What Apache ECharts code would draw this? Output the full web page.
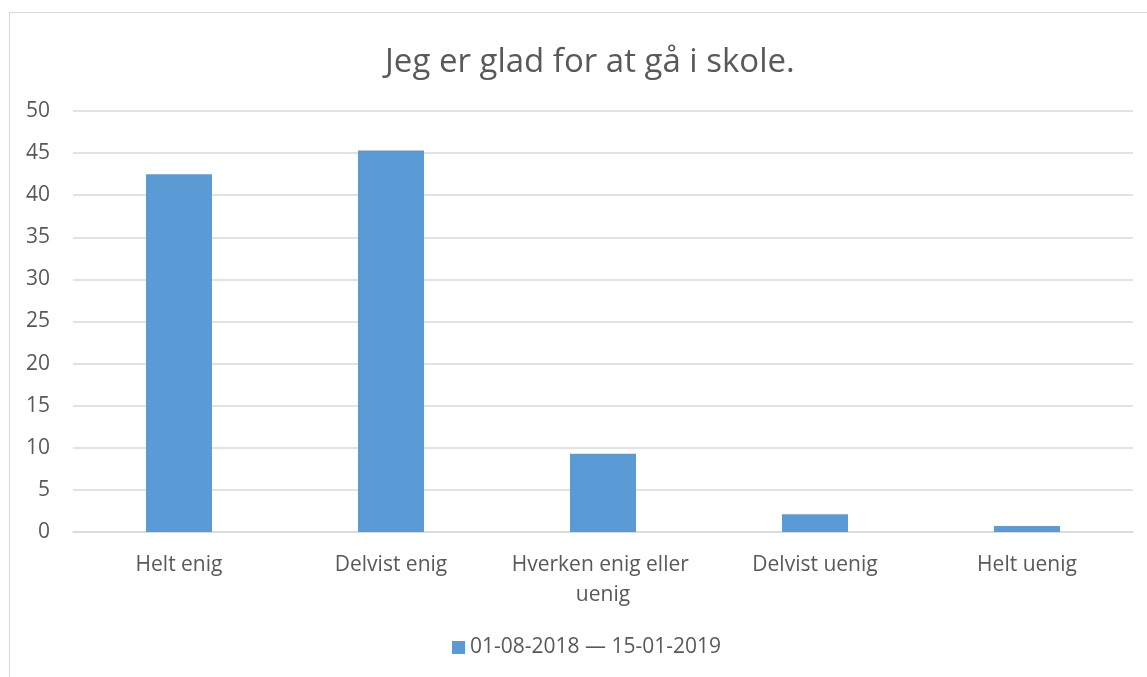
<!DOCTYPE html>
<html>
<head>
<meta charset="utf-8">
<script src="https://cdn.jsdelivr.net/npm/echarts@6/dist/echarts.min.js"></script>
<style>
  html, body { margin: 0; padding: 0; background: #fff; }
  #frame { position: absolute; left: 9px; top: 12px; width: 1150px; height: 680px; border: 1.5px solid #d9d9d9; box-sizing: border-box; }
  #chart { width: 1147px; height: 677px; }
</style>
</head>
<body>
<div id="frame"></div>
<div id="chart"></div>
<script>
// svarkategorier og andel i prosent
const categories = ['Helt enig', 'Delvist enig', 'Hverken enig eller uenig', 'Delvist uenig', 'Helt uenig'];
const values = [42.5, 45.3, 9.3, 2.1, 0.7];
const seriesName = '01-08-2018 — 15-01-2019';
const yTicks = [0, 5, 10, 15, 20, 25, 30, 35, 40, 45, 50];

const font = '"Open Sans", sans-serif';
const grey = '#595959';

const chart = echarts.init(document.getElementById('chart'));

const option = {
    animation: false,
    title: {
        text: 'Jeg er glad for at gå i skole.',
        left: 380,
        top: 41,
        textStyle: { fontFamily: font, fontSize: 33, fontWeight: 'normal', color: grey }
    },
    legend: {
        data: [seriesName],
        left: 447,
        top: 632,
        itemWidth: 13,
        itemHeight: 13,
        itemGap: 6,
        icon: 'rect',
        textStyle: { fontFamily: font, fontSize: 21, color: grey }
    },
    grid: { left: 73, right: 14, top: 111, bottom: 145 },
    xAxis: {
        type: 'category',
        data: categories,
        axisLine: { lineStyle: { color: '#d9d9d9', width: 1.5 } },
        axisTick: { show: false },
        axisLabel: {
            fontFamily: font, fontSize: 21, color: grey, margin: 18,
            width: 190, overflow: 'break', lineHeight: 30, interval: 0
        }
    },
    yAxis: {
        type: 'value',
        min: yTicks[0],
        max: yTicks[yTicks.length - 1],
        interval: 5,
        axisLine: { show: false },
        axisTick: { show: false },
        splitLine: { lineStyle: { color: '#d9d9d9', width: 1.5 } },
        axisLabel: { fontFamily: font, fontSize: 21, color: grey, margin: 23 }
    },
    series: [{
        name: seriesName,
        type: 'bar',
        data: values,
        barWidth: 66,
        itemStyle: { color: '#5b9bd5' }
    }]
};

chart.setOption(option);
</script>
</body>
</html>
